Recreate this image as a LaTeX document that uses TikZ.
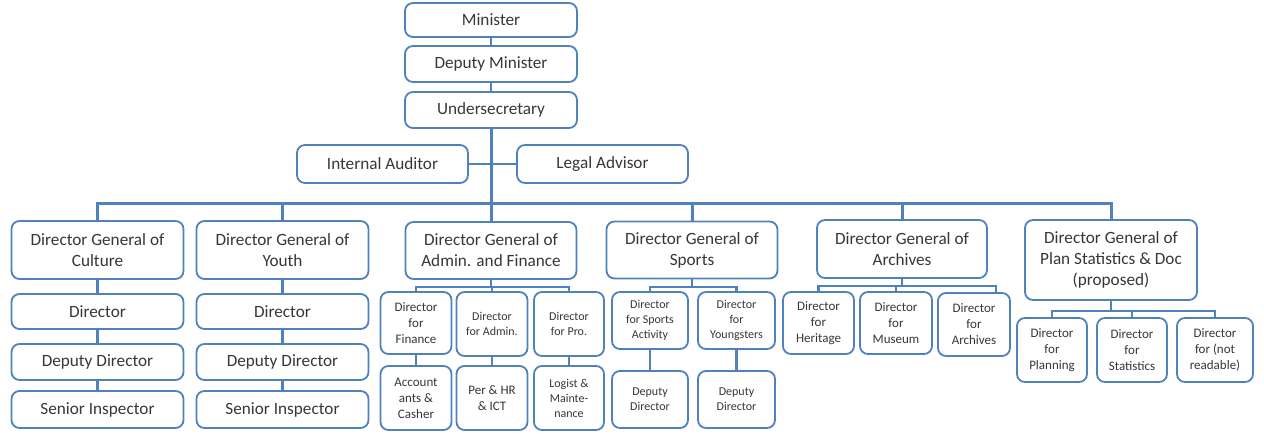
\documentclass[tikz,border=0pt]{standalone}
\usepackage{fontspec}
\setmainfont{Carlito}
\usetikzlibrary{calc}
\definecolor{orgblue}{RGB}{79,129,189}
\definecolor{orgtext}{RGB}{55,55,55}

\begin{document}
\begin{tikzpicture}[x=1pt,y=-1pt,
  post/.style={draw=orgblue,line width=1.8pt,rounded corners=8pt,fill=white,text=orgtext,
    align=center,inner sep=0pt,font=\fontsize{17.2}{21}\selectfont},
  bigpost/.style={post,minimum width=172pt},
  smallpost/.style={post,font=\fontsize{13}{16}\selectfont},
  tinypost/.style={post,font=\fontsize{12}{15}\selectfont},
  link/.style={draw=orgblue,line width=2.4pt},
  mainlink/.style={draw=orgblue,line width=3pt}]
  \useasboundingbox (0,0) rectangle (1264,445);
  % top of the ministry
  \node[bigpost,minimum height=34pt] (minister) at (491,20) {Minister};
  \node[bigpost,minimum height=36pt] (depmin) at (491,64) {Deputy Minister};
  \node[bigpost,minimum height=36pt] (undersec) at (491,110) {Undersecretary};
  \node[bigpost,minimum width=171pt,minimum height=38pt] (auditor) at (382.5,164) {Internal Auditor};
  \node[bigpost,minimum width=171pt,minimum height=38pt] (legal) at (602.5,164) {Legal Advisor};
  \coordinate (bus) at (491,203);
  \draw[link] (minister.south) -- (depmin.north);
  \draw[link] (depmin.south) -- (undersec.north);
  \draw[link] (auditor.east) -- (legal.west);
  \draw[mainlink] (undersec.south) -- (bus);
  % directors general
  \node[bigpost,minimum height=58pt] (dgcult) at (97.5,250) {Director General of\\Culture};
  \node[bigpost,minimum height=58pt] (dgyouth) at (282.5,250) {Director General of\\Youth};
  \node[bigpost,minimum width=171pt,minimum height=57pt] (dgadmin) at (491,250.5) {Director General of\\Admin. and Finance};
  \node[bigpost,minimum width=171pt,minimum height=57pt] (dgsport) at (692,250) {Director General of\\Sports};
  \node[bigpost,minimum width=170pt,minimum height=58pt] (dgarch) at (902,249) {Director General of\\Archives};
  \node[bigpost,minimum height=80pt] (dgplan) at (1111,260) {Director General of\\Plan Statistics \& Doc\\(proposed)};
  \draw[mainlink] (dgcult.north) |- (dgplan.north |- bus) -- (dgplan.north);
  \foreach \n in {dgyouth,dgadmin,dgsport,dgarch}
    \draw[mainlink] (\n.north) -- (\n.north |- bus);
  % culture and youth: straight chains
  \foreach \col/\cx in {cult/97.5,youth/282.5}{
    \node[bigpost,minimum height=35pt] (dir\col) at (\cx,311.5) {Director};
    \node[bigpost,minimum height=36pt] (dep\col) at (\cx,362) {Deputy Director};
    \node[bigpost,minimum height=37pt] (sen\col) at (\cx,409.5) {Senior Inspector};
    \draw[link] (dg\col.south) -- (dir\col.north);
    \draw[link] (dir\col.south) -- (dep\col.north);
    \draw[link] (dep\col.south) -- (sen\col.north);
  }
  % admin. and finance
  \node[smallpost,minimum width=71pt,minimum height=62pt] (fin) at (416,323) {Director\\for\\Finance};
  \node[tinypost,minimum width=71pt,minimum height=64pt] (adm) at (492,324) {Director\\for Admin.};
  \node[tinypost,minimum width=70pt,minimum height=64pt] (pro) at (569,324) {Director\\for Pro.};
  \node[smallpost,minimum width=71pt,minimum height=64pt] (acc) at (416,398) {Account\\ants \&\\Casher};
  \node[smallpost,minimum width=71pt,minimum height=64pt] (per) at (492,398) {Per \& HR\\\& ICT};
  \node[tinypost,minimum width=70pt,minimum height=64pt] (logi) at (569,398) {Logist \&\\Mainte-\\nance};
  \coordinate (admbus) at (491,287);
  \draw[link] (dgadmin.south) -- (admbus);
  \draw[link] (fin.north) |- (pro.north |- admbus) -- (pro.north);
  \draw[link] (adm.north) -- (adm.north |- admbus);
  \draw[link] (fin.south) -- (acc.north);
  \draw[link] (adm.south) -- (per.north);
  \draw[link] (pro.south) -- (logi.north);
  % sports
  \node[tinypost,minimum width=76pt,minimum height=57pt] (act) at (650,320.5) {Director\\for Sports\\Activity};
  \node[tinypost,minimum width=77pt,minimum height=57pt] (young) at (736.5,320.5) {Director\\for\\Youngsters};
  \node[tinypost,minimum width=76pt,minimum height=57pt] (sdepa) at (650,399.5) {Deputy\\Director};
  \node[tinypost,minimum width=77pt,minimum height=57pt] (sdepb) at (736.5,399.5) {Deputy\\Director};
  \coordinate (spbus) at (692,287);
  \draw[link] (dgsport.south) -- (spbus);
  \draw[link] (act.north) |- (young.north |- spbus) -- (young.north);
  \draw[link] (act.south) -- (sdepa.north);
  \draw[link] (young.south) -- (sdepb.north);
  % archives
  \node[smallpost,minimum width=71pt,minimum height=62pt] (her) at (818.5,323) {Director\\for\\Heritage};
  \node[smallpost,minimum width=72pt,minimum height=62pt] (mus) at (896,323) {Director\\for\\Museum};
  \node[smallpost,minimum width=72pt,minimum height=63pt] (arc) at (974,324.5) {Director\\for\\Archives};
  \coordinate (arbus) at (902,286);
  \coordinate (arcdrop) at ($(arc.north)+(22,0)$);
  \draw[link] (dgarch.south) -- (arbus);
  \draw[link] (her.north) |- (arcdrop |- arbus) -- (arcdrop);
  \draw[link] (mus.north) -- (mus.north |- arbus);
  % plan, statistics and doc
  \node[smallpost,minimum width=70pt,minimum height=64pt] (pln) at (1052,350) {Director\\for\\Planning};
  \node[smallpost,minimum width=70pt,minimum height=64pt] (stat) at (1132,350) {Director\\for\\Statistics};
  \node[smallpost,minimum width=76pt,minimum height=64pt] (nread) at (1215,350) {Director\\for (not\\readable)};
  \coordinate (plbus) at (1111,311);
  \draw[link] (dgplan.south) -- (plbus);
  \draw[link] (pln.north) |- (nread.north |- plbus) -- (nread.north);
  \draw[link] (stat.north) -- (stat.north |- plbus);
\end{tikzpicture}
\end{document}
